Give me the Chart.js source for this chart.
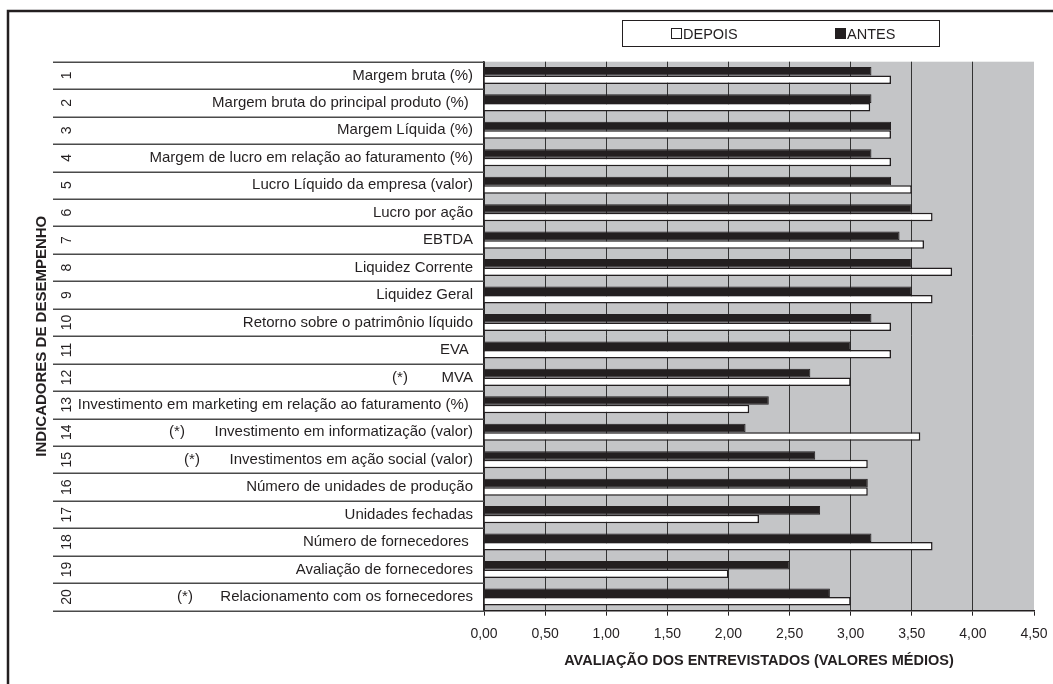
<!DOCTYPE html>
<html>
<head>
<meta charset="utf-8">
<script src="https://cdn.jsdelivr.net/npm/chart.js@4.4.1/dist/chart.umd.min.js"></script>
<style>
  html, body { margin: 0; padding: 0; background: #fff; }
  #chart { display: block; }
</style>
</head>
<body>
<canvas id="chart" width="1053" height="684"></canvas>
<script>
// indicadores avaliados (rótulos do eixo vertical)
const indicadores = [
  "Margem bruta (%)",
  "Margem bruta do principal produto (%) ",
  "Margem Líquida (%)",
  "Margem de lucro em relação ao faturamento (%)",
  "Lucro Líquido da empresa (valor)",
  "Lucro por ação",
  "EBTDA",
  "Liquidez Corrente",
  "Liquidez Geral",
  "Retorno sobre o patrimônio líquido",
  "EVA ",
  "MVA",
  "Investimento em marketing em relação ao faturamento (%) ",
  "Investimento em informatização (valor)",
  "Investimentos em ação social (valor)",
  "Número de unidades de produção",
  "Unidades fechadas",
  "Número de fornecedores ",
  "Avaliação de fornecedores",
  "Relacionamento com os fornecedores"
];

const antes = [3.17, 3.17, 3.33, 3.17, 3.33, 3.50, 3.40, 3.50, 3.50, 3.17,
               3.00, 2.67, 2.33, 2.14, 2.71, 3.14, 2.75, 3.17, 2.50, 2.83];
const depois = [3.33, 3.16, 3.33, 3.33, 3.50, 3.67, 3.60, 3.83, 3.67, 3.33,
                3.33, 3.00, 2.17, 3.57, 3.14, 3.14, 2.25, 3.67, 2.00, 3.00];

// linhas marcadas com (*) -> posição x do marcador
const marcados = { 12: 400, 14: 177, 15: 192, 20: 185 };

const INK = '#231f20';
const FONT = '"Liberation Sans", Arial, sans-serif';

const decoracao = {
  id: 'decoracao',
  beforeDraw(chart) {
    const { ctx, chartArea: a } = chart;
    ctx.save();
    ctx.fillStyle = '#c4c5c7';
    ctx.fillRect(a.left, a.top, a.right - a.left, a.bottom - a.top);
    ctx.restore();
  },
  afterDraw(chart) {
    const { ctx, chartArea: a } = chart;
    const y = chart.scales.y;
    const n = indicadores.length;
    const rowH = (a.bottom - a.top) / n;
    ctx.save();

    // moldura
    ctx.strokeStyle = INK;
    ctx.lineWidth = 2.5;
    ctx.beginPath();
    ctx.moveTo(8, 684);
    ctx.lineTo(8, 11);
    ctx.lineTo(1053, 11);
    ctx.stroke();

    // linhas da tabela de indicadores
    ctx.strokeStyle = '#4a4a4a';
    ctx.lineWidth = 1.5;
    for (let i = 0; i <= n; i++) {
      const yy = Math.round(a.top + i * rowH) + 0.25;
      ctx.beginPath();
      ctx.moveTo(53, yy);
      ctx.lineTo(a.left, yy);
      ctx.stroke();
    }

    // números das linhas (rotacionados) e marcadores (*)
    ctx.fillStyle = INK;
    for (let i = 0; i < n; i++) {
      const cy = y.getPixelForValue(i);
      ctx.save();
      ctx.translate(66, cy);
      ctx.rotate(-Math.PI / 2);
      ctx.font = '14px ' + FONT;
      ctx.textAlign = 'center';
      ctx.textBaseline = 'middle';
      ctx.fillText(String(i + 1), 0, 1);
      ctx.restore();
      const mx = marcados[i + 1];
      if (mx) {
        ctx.font = '15px ' + FONT;
        ctx.textAlign = 'center';
        ctx.textBaseline = 'middle';
        ctx.fillText('(*)', mx, cy);
      }
    }

    // títulos dos eixos
    ctx.font = 'bold 14.5px ' + FONT;
    ctx.textAlign = 'center';
    ctx.textBaseline = 'middle';
    ctx.fillText('AVALIAÇÃO DOS ENTREVISTADOS (VALORES MÉDIOS)', 759, 661);
    ctx.save();
    ctx.translate(42, (a.top + a.bottom) / 2);
    ctx.rotate(-Math.PI / 2);
    ctx.font = 'bold 15px ' + FONT;
    ctx.fillText('INDICADORES DE DESEMPENHO', 0, 0);
    ctx.restore();

    // legenda
    ctx.strokeStyle = INK;
    ctx.lineWidth = 1;
    ctx.strokeRect(622.5, 20.5, 317, 26);
    ctx.fillStyle = '#fff';
    ctx.fillRect(671.5, 28.5, 10, 10);
    ctx.strokeRect(671.5, 28.5, 10, 10);
    ctx.fillStyle = INK;
    ctx.fillRect(835, 28, 11, 11);
    ctx.font = '14.5px ' + FONT;
    ctx.textAlign = 'left';
    ctx.textBaseline = 'alphabetic';
    ctx.fillText('DEPOIS', 683, 38.5);
    ctx.fillText('ANTES', 847, 38.5);

    ctx.restore();
  }
};

new Chart(document.getElementById('chart'), {
  type: 'bar',
  data: {
    labels: indicadores,
    datasets: [
      {
        label: 'ANTES',
        data: antes,
        backgroundColor: INK,
        borderColor: INK,
        borderWidth: 1,
        categoryPercentage: 0.62,
        barPercentage: 1.0
      },
      {
        label: 'DEPOIS',
        data: depois,
        backgroundColor: '#ffffff',
        borderColor: INK,
        borderWidth: 1.5,
        categoryPercentage: 0.62,
        barPercentage: 1.0
      }
    ]
  },
  options: {
    indexAxis: 'y',
    responsive: false,
    animation: false,
    devicePixelRatio: 1,
    layout: { padding: { top: 61.7, right: 19, bottom: 0, left: 0 } },
    plugins: {
      legend: { display: false },
      tooltip: { enabled: false }
    },
    scales: {
      x: {
        min: 0,
        max: 4.5,
        afterFit: (s) => { s.height = 73.3; s.paddingLeft = 0; s.paddingRight = 0; },
        ticks: {
          stepSize: 0.5,
          color: INK,
          padding: 10,
          font: { family: FONT, size: 14 },
          callback: (v) => Number(v).toFixed(2).replace('.', ',')
        },
        grid: {
          color: (c) => (c.tick && c.tick.value === 4.5 ? 'rgba(0,0,0,0)' : '#333'),
          tickColor: INK,
          tickLength: 5,
          lineWidth: 1
        },
        border: { display: true, color: INK, width: 1.5 }
      },
      y: {
        afterFit: (s) => { s.width = 484; s.paddingTop = 0; s.paddingBottom = 0; },
        ticks: {
          color: INK,
          padding: 11,
          autoSkip: false,
          font: { family: FONT, size: 15 }
        },
        grid: { display: true, drawOnChartArea: false, drawTicks: false },
        border: { display: true, color: INK, width: 1.5 }
      }
    }
  },
  plugins: [decoracao]
});
</script>
</body>
</html>
